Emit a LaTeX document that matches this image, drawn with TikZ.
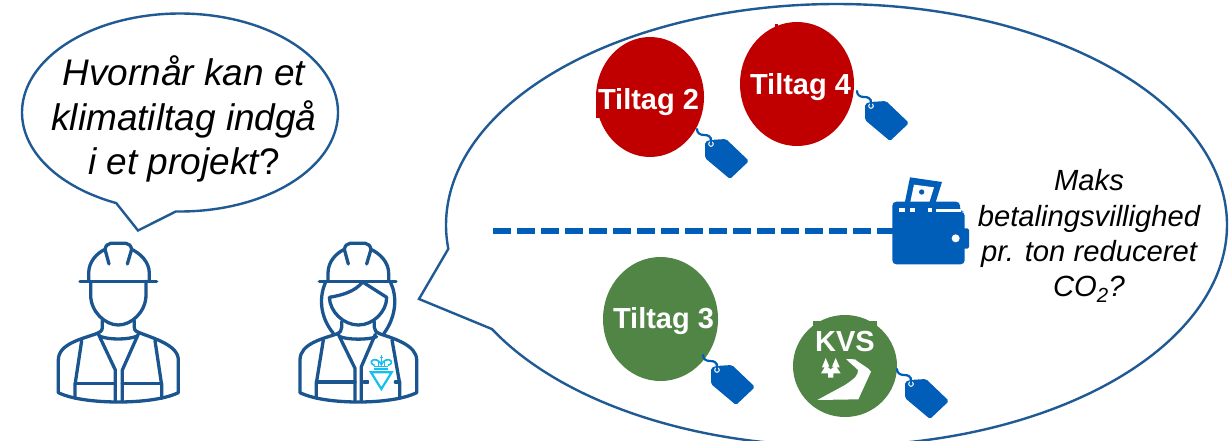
\documentclass[tikz,border=0pt]{standalone}
\usepackage{fontspec}
\setmainfont{Liberation Sans}
\definecolor{outlineblue}{HTML}{1F5A94}
\definecolor{personblue}{HTML}{1B5590}
\definecolor{tagblue}{HTML}{005EB8}
\definecolor{tiltagred}{HTML}{C00000}
\definecolor{tiltaggreen}{HTML}{508546}
\definecolor{logocyan}{HTML}{14C0F0}
\tikzset{
  bubble/.style={draw=outlineblue,line width=2.4pt,line join=miter,fill=white},
  worker/.style={draw=personblue,line width=3.3pt,line cap=round,line join=round},
  tiltaglabel/.style={text=white,font=\bfseries\fontsize{29}{33}\selectfont,anchor=base,inner sep=0pt},
  asktext/.style={align=center,inner sep=0pt,text=black},
  pics/pricetag/.style={code={
    \draw[tagblue,line width=2.2pt,line cap=round] (0,0) .. controls (0,4) and (3,6) .. (7,6) .. controls (11,6) and (14,7) .. (14,12);
    \fill[tagblue,rounded corners=1.8pt] (8,13) -- (13,11) -- (29,10) -- (52,32) -- (33,50) -- (8,29) -- cycle;
    \draw[white,line width=1pt] (14,15) circle (2.3);
    \draw[tagblue,line width=1.5pt,line cap=round] (14,9) -- (14,14);
  }}
}
\newcommand{\HardHat}{
  \draw[worker] (120,184) -- (350,184);
  \draw[worker] (146,184) -- (146,160) .. controls (146,125) and (170,100) .. (195,88)
     .. controls (197,78) and (203,70) .. (212,70) -- (258,70) .. controls (267,70) and (273,78) .. (275,88)
     .. controls (300,100) and (328,125) .. (328,160) -- (328,184);
  \draw[worker] (195,88) -- (207,132);
  \draw[worker] (275,88) -- (262,132);
}
\begin{document}
\begin{tikzpicture}[x=1pt,y=-1pt]
\useasboundingbox (0,0) rectangle (1230,441);
\clip (0,0) rectangle (1230,441);
\fill[white] (0,0) rectangle (1230,441);

% left speech bubble
\draw[bubble] plot[domain=91.5:-246.2,samples=180,smooth] ({180+158*cos(\x)},{112.5+99*sin(\x)}) -- (138,230.5) -- cycle;
\node[asktext,font=\itshape\fontsize{37}{44.5}\selectfont] (question) at (184,119) {Hvornår kan et\\klimatiltag indgå\\i et projekt{\upshape ?}};

% right speech bubble
\draw[bubble] plot[domain=151.9:-186.2,samples=260,smooth] ({836.5+390.5*cos(\x)},{225+221*sin(\x)}) -- (419,299) -- cycle;

% dashed line
\coordinate (dashstart) at (493,231);
\coordinate (walletedge) at (893,231);
\draw[tagblue,line width=6pt,dash pattern=on 18pt off 6pt] (dashstart) -- (walletedge);

% wallet
\begin{scope}[shift={(860,160)},scale=1/3]
  \fill[tagblue] (150,52) -- (246,66) -- (226,130) -- (134,130) -- cycle;
  \fill[white] (162,74) -- (222,82) -- (207,130) -- (150,130) -- cycle;
  \fill[tagblue] (185,96) circle (8);
  \fill[tagblue,rounded corners=4pt] (97,125) -- (300,125) -- (300,155) -- (314,155) -- (314,313) -- (97,313) -- cycle;
  \fill[tagblue,rounded corners=1.5pt] (300,205) rectangle (327,266);
  \fill[white] (228,146) rectangle (303,155);
  \fill[white] (118,145) rectangle (135,155);
  \fill[white] (150,145) rectangle (166,155);
  \fill[white] (205,145) rectangle (215,155);
  \fill[white] (287,235) circle (12);
\end{scope}

\node[asktext,font=\itshape\fontsize{29.2}{35.3}\selectfont] (maks) at (1089,236) {Maks\\betalingsvillighed\\pr. ton reduceret\\CO\textsubscript{2}?};

% tiltag circles
\fill[tiltagred] (650,97) ellipse [x radius=54,y radius=60];
\fill[tiltagred] (596,92) rectangle (600,118);
\node[tiltaglabel] (t2) at (648.5,110) {Tiltag 2};
\fill[tiltagred] (797,84) ellipse [x radius=57,y radius=62];
\fill[tiltagred] (775,24) rectangle (778,30);
\node[tiltaglabel] (t4) at (800.5,95) {Tiltag 4};
\fill[tiltaggreen] (660.5,319) ellipse [x radius=57.5,y radius=62];
\node[tiltaglabel] (t3) at (663.5,328) {Tiltag 3};
\fill[tiltaggreen] (845,366) ellipse [x radius=52,y radius=51];
\fill[tiltaggreen] (813,321) rectangle (877,328);
\node[tiltaglabel] (kvs) at (845,351) {KVS};

% KVS icon
\begin{scope}[shift={(790,310)},scale=1/3]
  \fill[white] (168,147) -- (195,148) .. controls (215,165) and (235,172) .. (243,185) -- (205,268) -- (82,270)
    -- (165,225) .. controls (195,205) and (205,195) .. (204,180) .. controls (195,170) and (180,160) .. (168,147) -- cycle;
  \fill[white] (107,144) -- (118,170) -- (112,170) -- (122,178) -- (132,170) -- (126,170) -- (137,144)
     -- (149,172) -- (140,172) -- (152,190) -- (130,190) -- (130,203) -- (114,203) -- (114,190) -- (93,190) -- (104,172) -- (96,172) -- cycle;
\end{scope}

% price tags
\coordinate (tagtwo) at (697,129);
\coordinate (tagfour) at (857,91);
\coordinate (tagthree) at (703,355);
\coordinate (tagkvs) at (897,369);
\pic at (tagtwo) {pricetag};
\pic at (tagfour) {pricetag};
\pic at (tagthree) {pricetag};
\pic at (tagkvs) {pricetag};

% worker 1
\begin{scope}[shift={(40,220)},scale=1/3]
  \HardHat
  \draw[worker] (152,184) -- (152,225) .. controls (152,275) and (195,315) .. (235,315) .. controls (275,315) and (318,275) .. (318,225) -- (318,184);
  \draw[worker] (187,302) -- (187,322) .. controls (187,332) and (180,338) .. (172,340);
  \draw[worker] (283,302) -- (283,322) .. controls (283,332) and (290,336) .. (298,338);
  \draw[worker] (172,340) .. controls (130,356) and (55,370) .. (55,420) -- (55,518)
     .. controls (100,540) and (180,546) .. (235,546) .. controls (290,546) and (370,540) .. (415,518) -- (415,420)
     .. controls (415,375) and (340,355) .. (298,338);
  \draw[worker] (178,348) .. controls (205,360) and (265,360) .. (292,348);
  \draw[worker] (175,342) -- (226,450) -- (226,544);
  \draw[worker] (295,342) -- (247,450) -- (247,544);
  \draw[worker] (125,362) -- (105,495) -- (105,535);
  \draw[worker] (345,362) -- (365,495) -- (365,535);
  \draw[worker] (105,491) -- (226,491);
  \draw[worker] (247,491) -- (365,491);
\end{scope}

% worker 2
\begin{scope}[shift={(40,220)},scale=1/3]
  \begin{scope}[shift={(718,0)}]
    \HardHat
  \end{scope}
  \draw[worker] (856,188) .. controls (840,225) and (835,285) .. (880,340);
  \draw[worker] (1052,188) .. controls (1070,225) and (1072,285) .. (1032,340);
  \draw[worker] (968,186) .. controls (945,215) and (905,226) .. (868,232)
     .. controls (870,275) and (910,315) .. (955,315) .. controls (1000,315) and (1040,275) .. (1040,232) -- (968,186);
  \draw[worker] (905,305) -- (905,322) .. controls (905,332) and (900,338) .. (893,341);
  \draw[worker] (1003,305) -- (1003,322) .. controls (1003,332) and (1010,338) .. (1018,341);
  \draw[worker] (893,341) .. controls (850,356) and (780,370) .. (780,420) -- (780,518)
     .. controls (825,540) and (900,546) .. (955,546) .. controls (1010,546) and (1085,540) .. (1130,518) -- (1130,420)
     .. controls (1130,375) and (1060,355) .. (1018,341);
  \draw[worker] (900,350) .. controls (925,360) and (985,360) .. (1010,350);
  \draw[worker] (895,343) -- (945,445) -- (945,544);
  \draw[worker] (1006,343) -- (964,440) -- (964,544);
  \draw[worker] (850,360) -- (829,490) -- (829,535);
  \draw[worker] (1056,360) -- (1079,490) -- (1079,535);
  \draw[worker] (829,486) -- (945,486);
  \draw[worker] (972,486) -- (984,486);
  \draw[worker] (1066,486) -- (1079,486);
  % emblem
  \fill[white] (988,402) rectangle (1060,515);
  \draw[logocyan,line width=2.2pt,line join=miter] (993,457) -- (1055,457) -- (1024,507) -- cycle;
  \fill[logocyan] (1003,437) rectangle (1045,450);
  \fill[white] (1003,441) rectangle (1045,443);
  \draw[logocyan,line width=1.6pt] (1004,436) .. controls (985,430) and (995,415) .. (1010,420) .. controls (1016,422) and (1021,427) .. (1024,434);
  \draw[logocyan,line width=1.6pt] (1044,436) .. controls (1063,430) and (1053,415) .. (1038,420) .. controls (1032,422) and (1027,427) .. (1024,434);
  \draw[logocyan,line width=1.4pt] (1024,405) -- (1024,437);
  \draw[logocyan,line width=1.2pt] (1019,412) -- (1029,412);
  \draw[logocyan,line width=1pt] (1014,423) -- (1014,437);
  \draw[logocyan,line width=1pt] (1034,423) -- (1034,437);
\end{scope}
\end{tikzpicture}
\end{document}
